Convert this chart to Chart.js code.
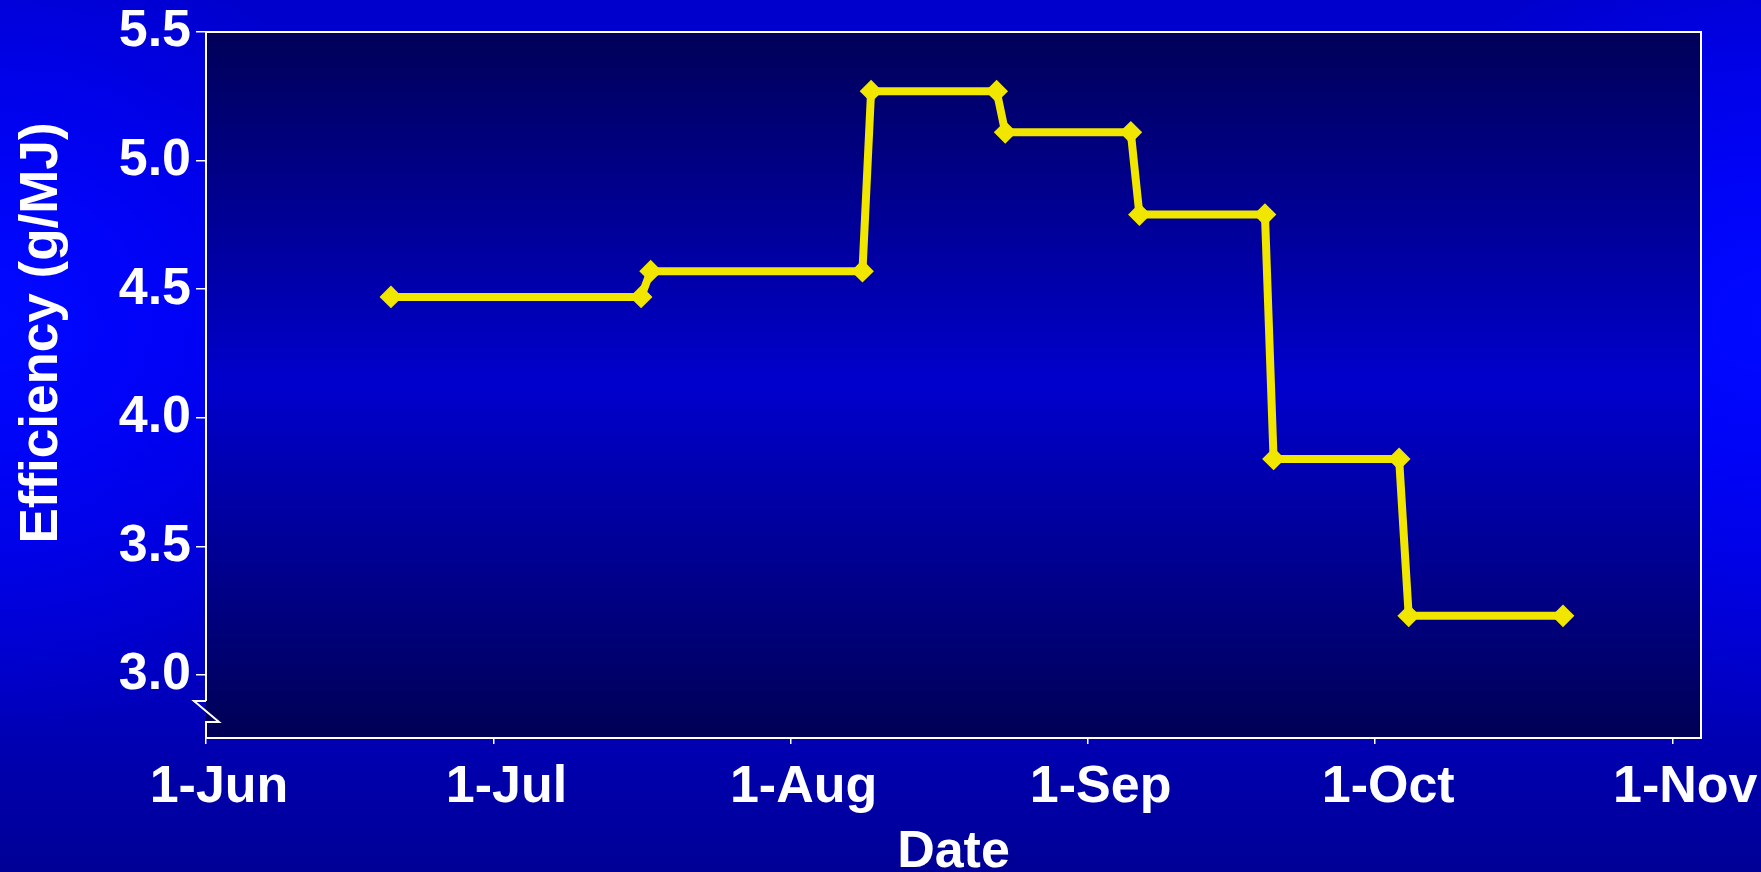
<!DOCTYPE html>
<html>
<head>
<meta charset="utf-8">
<title>Efficiency</title>
<script src="https://cdn.jsdelivr.net/npm/chart.js@4.4.1/dist/chart.umd.min.js"></script>
<style>
  html, body { margin: 0; padding: 0; overflow: hidden; background: #0000c8; }
  canvas { display: block; }
</style>
</head>
<body>
<canvas id="chart" width="1761" height="872"></canvas>
<script>
// Sampling dates, counted in days after 1 June
const dayOffsets = [19.3, 45.4, 46.4, 68.5, 69.4, 82.5, 83.4, 96.5, 97.4, 110.5, 111.4, 124.5, 125.5, 141.6];
// Efficiency (g/MJ) at each date
const efficiency = [4.47, 4.47, 4.57, 4.57, 5.27, 5.27, 5.11, 5.11, 4.79, 4.79, 3.84, 3.84, 3.23, 3.23];

// Month-start ticks on the date axis
const monthTickDays = [0, 30, 61, 92, 122, 153];
const monthTickLabels = ['1-Jun', '1-Jul', '1-Aug', '1-Sep', '1-Oct', '1-Nov'];

// Efficiency axis ticks and range
const efficiencyTicks = [3.0, 3.5, 4.0, 4.5, 5.0, 5.5];
const yMin = 2.755;
const yMax = 5.5;
const xMin = 0;
const xMax = 156;

const FONT = '"Liberation Sans", Arial, Helvetica, sans-serif';
const YELLOW = '#F0E600';

// Blue backdrop for the page and the plot area
const backdrop = {
  id: 'backdrop',
  beforeDraw(chart) {
    const { ctx, width, height, chartArea: a } = chart;
    ctx.save();
    let g = ctx.createLinearGradient(0, 0, 0, height);
    g.addColorStop(0, 'rgb(0,0,204)');
    g.addColorStop(0.38, 'rgb(0,0,232)');
    g.addColorStop(0.8, 'rgb(0,0,188)');
    g.addColorStop(1, 'rgb(0,0,150)');
    ctx.fillStyle = g;
    ctx.fillRect(0, 0, width, height);

    // brighter glow along the left and right edges
    for (const cx of [0, width]) {
      ctx.save();
      ctx.translate(cx, 320);
      ctx.scale(1, 1.1);
      const r = ctx.createRadialGradient(0, 0, 0, 0, 0, 380);
      r.addColorStop(0, 'rgba(0,10,255,1)');
      r.addColorStop(0.35, 'rgba(0,5,255,0.75)');
      r.addColorStop(1, 'rgba(0,0,255,0)');
      ctx.fillStyle = r;
      ctx.fillRect(-400, -400, 800, 800);
      ctx.restore();
    }

    g = ctx.createLinearGradient(0, a.top, 0, a.bottom);
    g.addColorStop(0, 'rgb(0,0,88)');
    g.addColorStop(0.5, 'rgb(0,0,206)');
    g.addColorStop(1, 'rgb(0,0,84)');
    ctx.fillStyle = g;
    ctx.fillRect(a.left, a.top, a.right - a.left, a.bottom - a.top);
    ctx.restore();
  }
};

// Plot frame with a broken value axis, and the rotated axis title
const frame = {
  id: 'frame',
  afterDraw(chart) {
    const { ctx, chartArea: a } = chart;
    const L = a.left, R = a.right, T = a.top, B = a.bottom;
    ctx.save();
    ctx.strokeStyle = '#ffffff';
    ctx.lineWidth = 2;
    ctx.lineJoin = 'miter';
    ctx.beginPath();
    ctx.moveTo(L, B - 37);
    ctx.lineTo(L, T);
    ctx.lineTo(R, T);
    ctx.lineTo(R, B);
    ctx.lineTo(L, B);
    ctx.lineTo(L, B - 16);
    ctx.lineTo(L + 13, B - 16);
    ctx.lineTo(L - 12, B - 37);
    ctx.lineTo(L, B - 37);
    ctx.stroke();

    ctx.translate(42, 333);
    ctx.rotate(-Math.PI / 2);
    ctx.fillStyle = '#ffffff';
    ctx.font = 'bold 53px ' + FONT;
    ctx.textAlign = 'center';
    ctx.textBaseline = 'middle';
    ctx.fillText('Efficiency (g/MJ)', 0, 0);
    ctx.restore();
  }
};

const points = dayOffsets.map((d, i) => ({ x: d, y: efficiency[i] }));

new Chart(document.getElementById('chart'), {
  type: 'line',
  data: {
    datasets: [{
      data: points,
      borderColor: YELLOW,
      backgroundColor: YELLOW,
      borderWidth: 8,
      tension: 0,
      pointStyle: 'rectRot',
      pointRadius: 10,
      pointBorderWidth: 2,
      pointBackgroundColor: YELLOW,
      pointBorderColor: YELLOW,
      clip: false
    }]
  },
  options: {
    responsive: false,
    animation: false,
    devicePixelRatio: 1,
    layout: { padding: { left: 0, top: 32, right: 60, bottom: 0 } },
    plugins: {
      legend: { display: false },
      tooltip: { enabled: false }
    },
    scales: {
      x: {
        type: 'linear',
        min: xMin,
        max: xMax,
        afterBuildTicks(scale) {
          scale.ticks = monthTickDays.map(v => ({ value: v }));
        },
        afterFit(scale) { scale.height = 134; },
        ticks: {
          autoSkip: false,
          maxRotation: 0,
          color: '#ffffff',
          padding: 12,
          labelOffset: 13,
          font: { family: FONT, size: 52, weight: 'bold' },
          callback(value, index) { return monthTickLabels[index]; }
        },
        grid: {
          drawOnChartArea: false,
          drawTicks: true,
          tickLength: 6,
          color: '#ffffff',
          lineWidth: 1.5
        },
        border: { display: false },
        title: {
          display: true,
          text: 'Date',
          color: '#ffffff',
          padding: 0,
          font: { family: FONT, size: 52, weight: 'bold', lineHeight: 0.75 }
        }
      },
      y: {
        min: yMin,
        max: yMax,
        afterBuildTicks(scale) {
          scale.ticks = efficiencyTicks.map(v => ({ value: v }));
        },
        afterFit(scale) { scale.width = 206; },
        ticks: {
          color: '#ffffff',
          padding: 5,
          font: { family: FONT, size: 52, weight: 'bold', lineHeight: 1 },
          callback(value) { return Number(value).toFixed(1); }
        },
        grid: {
          drawOnChartArea: false,
          drawTicks: true,
          tickLength: 10,
          color: '#ffffff',
          lineWidth: 1.5
        },
        border: { display: false }
      }
    }
  },
  plugins: [backdrop, frame]
});
</script>
</body>
</html>
